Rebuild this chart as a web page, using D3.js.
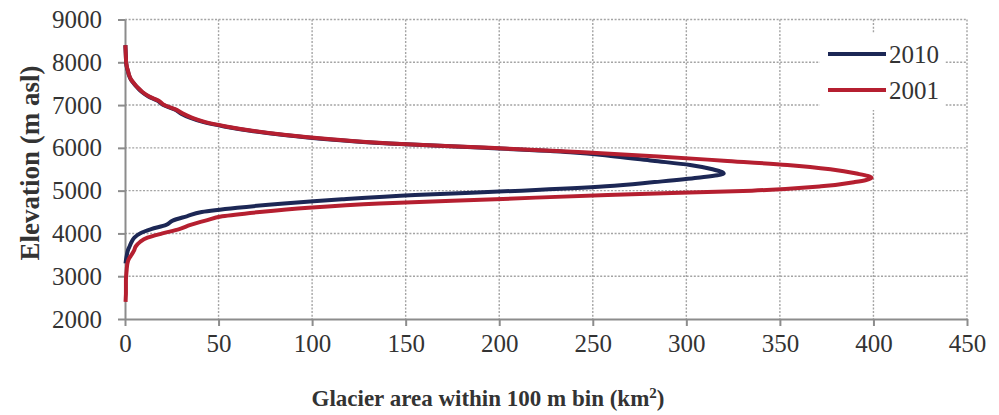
<!DOCTYPE html>
<html>
<head>
<meta charset="utf-8">
<script src="https://cdn.jsdelivr.net/npm/d3@7"></script>
<style>
  html, body { margin: 0; padding: 0; background: #fff; }
  svg { display: block; }
  text { font-family: "Liberation Serif", "DejaVu Serif", serif; fill: #333; }
</style>
</head>
<body>
<svg id="chart" width="999" height="415"></svg>
<script>
/* ── DATA ────────────────────────────────────────── */
const elev2001 = [2400,2500,2600,2700,2800,2900,3000,3100,3200,3300,3400,3500,3600,3700,3800,3900,
  4000,4100,4200,4300,4400,4500,4600,4700,4800,4900,5000,5100,5200,5300,5400,5500,5600,5700,5800,5900,
  6000,6100,6200,6300,6400,6500,6600,6700,6800,6900,7000,7100,7200,7300,7400,7500,7600,7700,7800,7900,
  8000,8100,8200,8300,8400];
const area2001 = [0.3,0.4,0.5,0.5,0.5,0.5,0.6,0.8,1.0,1.3,2.0,3.5,4.8,5.8,8,12,
  20,29,35,43,52,72,98,136,198,258,335,372,390,399,391,377,354,320,285,245,
  195,142,110,86,68,54,43,36,31,27,21,18,13,9.5,7,5,3.2,2.2,1.6,1.0,
  0.6,0.5,0.4,0.3,0.2];

const elev2010 = [3300,3400,3500,3600,3700,3800,3900,4000,4100,4200,4300,4400,4500,4600,4700,4800,
  4900,5000,5100,5200,5300,5400,5500,5600,5700,5800,5900,6000,6100,6200,6300,6400,6500,6600,6700,
  6800,6900,7000,7100,7200,7300,7400,7500,7600,7700,7800,7900,8000,8100,8200,8300,8400];
const area2010 = [0.3,0.6,1.0,1.5,2.5,3.5,5,8,14,22,25.5,33,41,60,85,116,
  155,212,257,283,306,320,314,302,282,262,238,192,141,108,85,67,53,42,35,
  30,26.5,20.5,17.5,12.5,9.2,6.8,4.8,3.1,2.1,1.5,0.9,0.6,0.5,0.4,0.3,0.2];

const xTicks = [0,50,100,150,200,250,300,350,400,450];
const yTicks = [2000,3000,4000,5000,6000,7000,8000,9000];
const seriesNames  = ['2010','2001'];
const seriesColors = ['#1c2755','#b51f30'];

/* ── LAYOUT ──────────────────────────────────────── */
const svg = d3.select('#chart');
const M = { left: 125, right: 967, top: 19.5, bottom: 319 };

const x = d3.scaleLinear().domain([0, 450]).range([M.left, M.right]);
const y = d3.scaleLinear().domain([2000, 9000]).range([M.bottom, M.top]);

/* grid */
svg.append('g').selectAll('line').data(yTicks.filter(d => d > 2000)).enter().append('line')
  .attr('x1', M.left).attr('x2', M.right)
  .attr('y1', d => y(d)).attr('y2', d => y(d))
  .attr('stroke', '#a4a4a4').attr('stroke-width', 1.4).attr('stroke-dasharray', '2,1.6');
svg.append('g').selectAll('line').data(xTicks.filter(d => d > 0)).enter().append('line')
  .attr('x1', d => x(d)).attr('x2', d => x(d))
  .attr('y1', M.top).attr('y2', M.bottom)
  .attr('stroke', '#a4a4a4').attr('stroke-width', 1.4).attr('stroke-dasharray', '2,1.6');

/* axes */
const xAxis = svg.append('g').attr('transform', 'translate(0,' + M.bottom + ')')
  .call(d3.axisBottom(x).tickValues(xTicks).tickFormat(d3.format('d'))
    .tickSize(7).tickPadding(8).tickSizeOuter(0));
const yAxis = svg.append('g').attr('transform', 'translate(' + M.left + ',0)')
  .call(d3.axisLeft(y).tickValues(yTicks).tickFormat(d3.format('d'))
    .tickSize(7).tickPadding(16).tickSizeOuter(0));
[xAxis, yAxis].forEach(a => {
  a.select('.domain').attr('stroke', '#8c8c8c').attr('stroke-width', 2);
  a.selectAll('.tick line').attr('stroke', '#8c8c8c').attr('stroke-width', 2);
  a.selectAll('.tick text').attr('font-family', '"Liberation Serif", serif')
    .attr('font-size', 25).attr('fill', '#333');
});

/* lines */
const line = d3.line().curve(d3.curveMonotoneY).x(d => x(d[1])).y(d => y(d[0]));
const data2010 = d3.zip(elev2010, area2010);
const data2001 = d3.zip(elev2001, area2001);
[data2010, data2001].forEach((d, i) => {
  svg.append('path').datum(d).attr('d', line)
    .attr('fill', 'none').attr('stroke', seriesColors[i])
    .attr('stroke-width', 4).attr('stroke-linejoin', 'round');
});

/* legend */
const leg = svg.append('g');
leg.append('rect').attr('x', 820).attr('y', 33).attr('width', 125).attr('height', 77).attr('fill', '#fff');
seriesNames.forEach((n, i) => {
  const ly = 54 + i * 36;
  leg.append('line').attr('x1', 828).attr('x2', 886).attr('y1', ly).attr('y2', ly)
    .attr('stroke', seriesColors[i]).attr('stroke-width', 4);
  leg.append('text').attr('x', 889).attr('y', ly).attr('dy', '0.35em')
    .attr('font-size', 25).text(n);
});

/* titles */
svg.append('text').attr('transform', 'translate(30,163) rotate(-90)')
  .attr('text-anchor', 'middle').attr('dy', '0.35em')
  .attr('font-size', 27).attr('font-weight', 'bold').text('Elevation (m asl)');
const xt = svg.append('text').attr('x', 488).attr('y', 406)
  .attr('text-anchor', 'middle').attr('font-size', 23).attr('font-weight', 'bold');
xt.append('tspan').text('Glacier area within 100 m bin (km');
xt.append('tspan').attr('font-size', 15).attr('dy', -8).text('2');
xt.append('tspan').attr('dy', 8).text(')');
</script>
</body>
</html>
